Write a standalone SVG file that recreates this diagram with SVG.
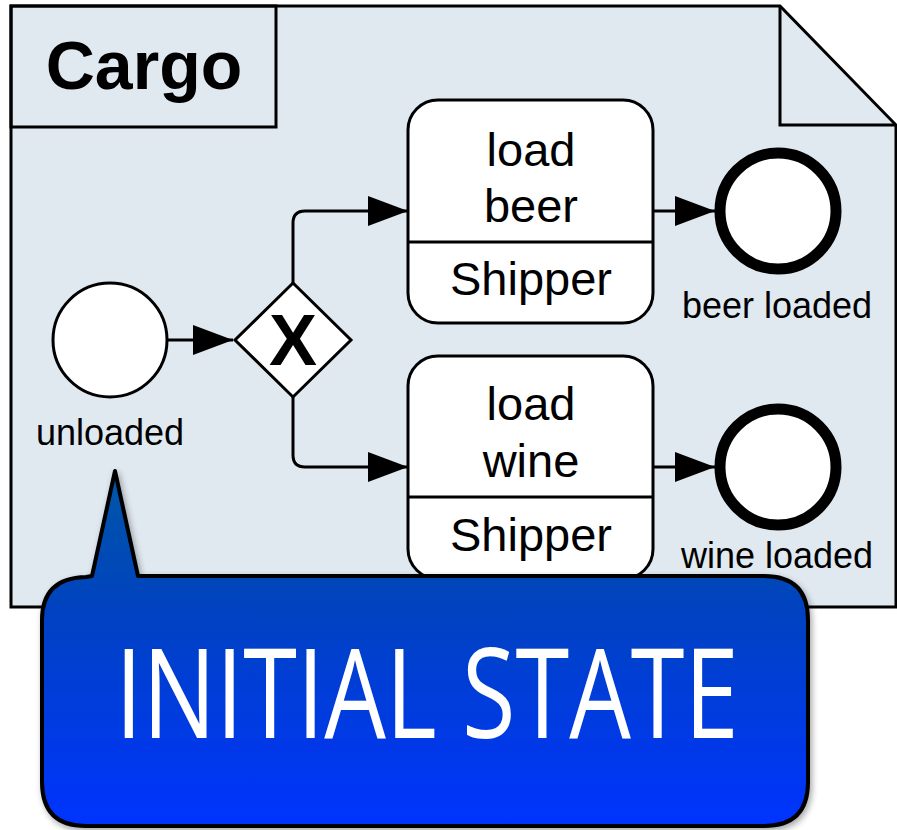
<svg xmlns="http://www.w3.org/2000/svg" width="897" height="830" viewBox="0 0 897 830">
<defs>
<style>
.ln{fill:none;stroke:#000;stroke-width:3;stroke-linejoin:round}
.shape{fill:#fff;stroke:#000;stroke-width:3}
.t{font-family:"Liberation Sans",Arial,sans-serif;fill:#000}
.task{font-size:47px;text-anchor:middle}
.lbl{font-size:36px;text-anchor:middle}
</style>
<marker id="arr" markerUnits="userSpaceOnUse" markerWidth="42" markerHeight="32" refX="40" refY="15" orient="auto">
<path d="M0,0 L40,15 L0,30 Z" fill="#000"/>
</marker>
<linearGradient id="blue" gradientUnits="userSpaceOnUse" x1="0" y1="470" x2="0" y2="826">
<stop offset="0" stop-color="#0058a6"/>
<stop offset="0.35" stop-color="#0044bc"/>
<stop offset="1" stop-color="#0033ff"/>
</linearGradient>
<filter id="sh" x="-5%" y="-5%" width="110%" height="115%">
<feDropShadow dx="2" dy="3" stdDeviation="3" flood-color="#000" flood-opacity="0.35"/>
</filter>
</defs>

<g id="pool">
<path d="M11,6 H780 L896,125 V607 H11 Z" fill="#e0e8f0" stroke="#000" stroke-width="3"/>
<path d="M780,6 V125 H896" fill="none" stroke="#000" stroke-width="3"/>
<rect x="11" y="6" width="265" height="121" fill="none" stroke="#000" stroke-width="3"/>
<text class="t" x="144" y="89" font-size="68" font-weight="bold" text-anchor="middle">Cargo</text>
</g>

<g id="connectors">
<path class="ln" d="M167,340 H233" marker-end="url(#arr)"/>
<path class="ln" d="M293,283 V223 Q293,211 305,211 H408" marker-end="url(#arr)"/>
<path class="ln" d="M293,397 V455 Q293,467 305,467 H408" marker-end="url(#arr)"/>
<path class="ln" d="M653,211 H715" marker-end="url(#arr)"/>
<path class="ln" d="M653,467 H715" marker-end="url(#arr)"/>
</g>

<g id="start-unloaded">
<circle class="shape" cx="110" cy="340" r="57"/>
<text class="t lbl" x="110" y="445">unloaded</text>
</g>

<g id="gateway">
<path class="shape" d="M293,283 L351,340 L293,397 L235,340 Z"/>
<text class="t" x="293" y="365" font-size="72" font-weight="bold" text-anchor="middle">X</text>
</g>

<g id="task-load-beer">
<rect class="shape" x="408" y="100" width="245" height="223" rx="30"/>
<line class="ln" x1="408" y1="242" x2="653" y2="242"/>
<text class="t task" x="531" y="166">load</text>
<text class="t task" x="531" y="222">beer</text>
<text class="t task" x="531" y="295">Shipper</text>
</g>

<g id="task-load-wine">
<rect class="shape" x="408" y="356" width="245" height="223" rx="30"/>
<line class="ln" x1="408" y1="497" x2="653" y2="497"/>
<text class="t task" x="531" y="420">load</text>
<text class="t task" x="531" y="477">wine</text>
<text class="t task" x="531" y="551">Shipper</text>
</g>

<g id="end-beer-loaded">
<circle cx="778" cy="211" r="58" fill="#fff" stroke="#000" stroke-width="11"/>
<text class="t lbl" x="777" y="318">beer loaded</text>
</g>

<g id="end-wine-loaded">
<circle cx="778" cy="467" r="58" fill="#fff" stroke="#000" stroke-width="11"/>
<text class="t lbl" x="777" y="568">wine loaded</text>
</g>

<g id="callout">
<path d="M115,471 L138,576 H764 Q808,576 808,620 V782 Q808,826 764,826 H86 Q42,826 42,782 V620 Q42,578 86,577 L92,576 Z" fill="url(#blue)" stroke="#000" stroke-width="4" stroke-linejoin="round" filter="url(#sh)"/>
<text transform="translate(427,738) scale(0.78,1)" x="0" y="0" font-family="'Open Sans','Liberation Sans',sans-serif" font-weight="400" font-size="125" fill="#fff" text-anchor="middle">INITIAL STATE</text>
</g>
</svg>
